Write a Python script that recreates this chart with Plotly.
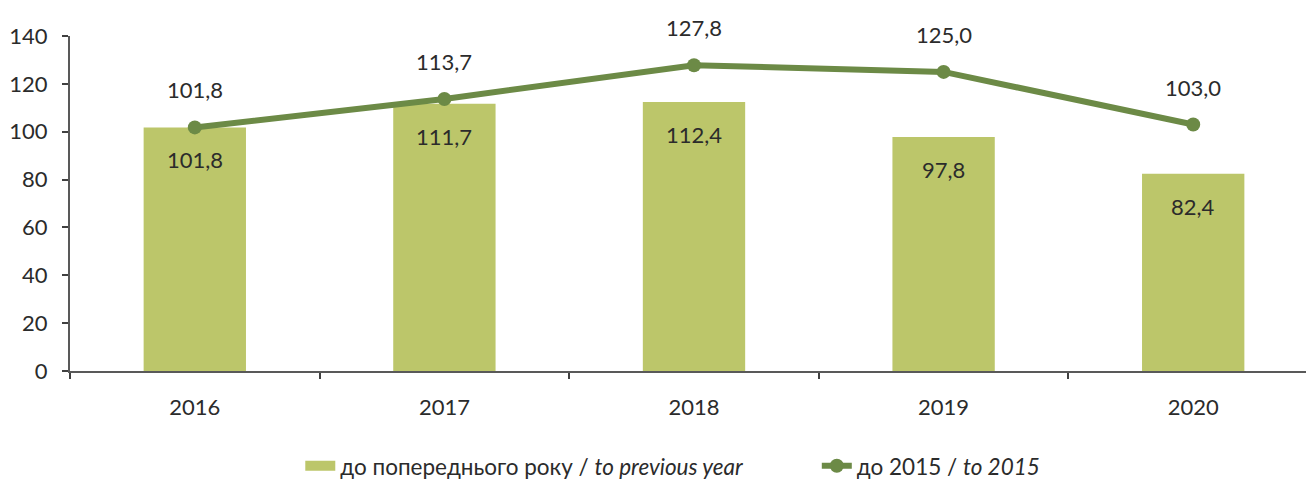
import plotly.graph_objects as go

years = ["2016", "2017", "2018", "2019", "2020"]
prev_year = [101.8, 111.7, 112.4, 97.8, 82.4]
to_2015 = [101.8, 113.7, 127.8, 125.0, 103.0]
y_ticks = [0, 20, 40, 60, 80, 100, 120, 140]

BAR_COLOR = "#BCC66A"
LINE_COLOR = "#6C8A46"
TEXT_COLOR = "#2b2b2b"
FONT = "Lato"
FS = 22

def fmt(v):
    return f"{v:.1f}".replace(".", ",")

fig = go.Figure()
fig.add_trace(go.Bar(
    x=years, y=prev_year, width=0.41,
    marker=dict(color=BAR_COLOR, line=dict(width=0)),
    showlegend=False, name="prev",
))
# legend entry with a wide swatch for the bar series
fig.add_trace(go.Scatter(
    x=[None], y=[None], mode="lines",
    line=dict(color=BAR_COLOR, width=10),
    name="до попереднього року / <i>to previous year</i>" + "&nbsp;" * 12,
))
fig.add_trace(go.Scatter(
    x=years, y=to_2015, mode="lines+markers",
    line=dict(color=LINE_COLOR, width=6),
    marker=dict(color=LINE_COLOR, size=14),
    name="до 2015 / <i>to 2015</i>",
))

annotations = []
for i, v in enumerate(prev_year):
    annotations.append(dict(x=i, y=v, xref="x", yref="y", text=fmt(v), showarrow=False,
                            yanchor="top", yshift=-17,
                            font=dict(size=FS, color=TEXT_COLOR, family=FONT)))
for i, v in enumerate(to_2015):
    annotations.append(dict(x=i, y=v, xref="x", yref="y", text=fmt(v), showarrow=False,
                            yanchor="bottom", yshift=22,
                            font=dict(size=FS, color=TEXT_COLOR, family=FONT)))

fig.update_layout(
    width=1310, height=481,
    margin=dict(l=62, r=0, t=28, b=118),
    paper_bgcolor="white", plot_bgcolor="white",
    font=dict(family=FONT, size=FS, color=TEXT_COLOR),
    annotations=annotations,
    showlegend=True,
    legend=dict(orientation="h", x=0.483, xanchor="center", y=-0.284, yanchor="middle",
                font=dict(size=22.5, color=TEXT_COLOR, family=FONT),
                tracegroupgap=0),
    bargap=0.59,
)
fig.update_xaxes(
    type="category", range=[-0.5, 4.5],
    showline=True, linecolor="#595959", linewidth=2,
    ticks="outside", tickson="boundaries", ticklen=6, tickcolor="#404040", tickwidth=2,
    showgrid=False, tickfont=dict(size=FS, color=TEXT_COLOR),
    ticklabelstandoff=16,
)
fig.update_yaxes(
    range=[0, 140], tickvals=y_ticks, ticktext=[str(t) for t in y_ticks],
    showline=True, linecolor="#595959", linewidth=2,
    ticks="outside", ticklen=6, tickcolor="#404040", tickwidth=2,
    showgrid=False, zeroline=False, tickfont=dict(size=FS, color=TEXT_COLOR),
    ticklabelstandoff=10,
)

fig.write_html("out.html")
